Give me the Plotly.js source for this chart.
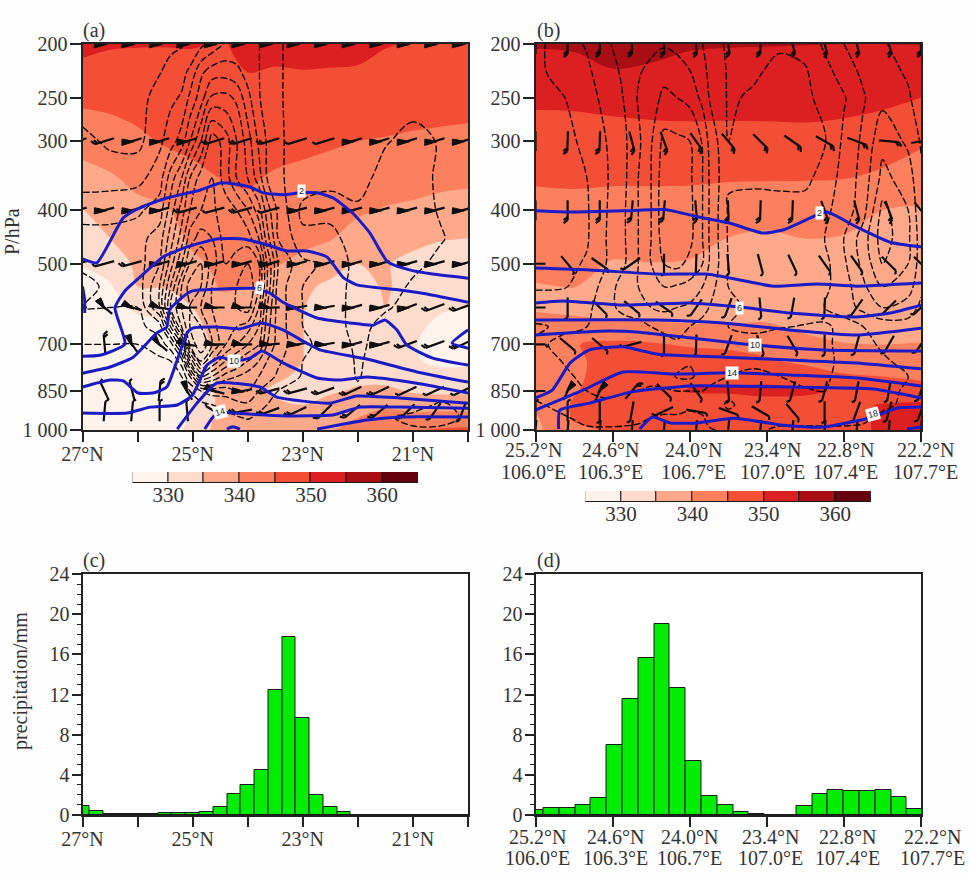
<!DOCTYPE html>
<html>
<head>
<meta charset="utf-8">
<script src="https://cdn.plot.ly/plotly-3.0.1.min.js"></script>
<style>html,body{margin:0;padding:0;background:#fefefe}</style>
</head>
<body>
<div id="chart" style="width:970px;height:876px"></div>
<script>
// pressure levels of the gridded fields
var pLevels = [200,225,250,300,350,400,450,500,550,600,650,700,750,800,850,900,950,1000];

// equivalent potential temperature, one inner list per latitude column
var thetaLatsA = [27,26.5,26,25.5,25,24.5,24,23.5,23,22.5,22,21.5,21,20.5,20];
var thetaA = [
[352,348,346,342,338,334.8,332.5,330.2,328.5,327,326,325,325,325,325,325,325,325],
[350.5,348,346.5,342.5,339.5,337,335,332,329.5,328,327,326,325,325,325,325,326,326],
[350.3,348,347,344,341,339,337,336,335,331,328,327,326,325.5,325.5,326,326,327],
[350.2,348.5,347.5,345.5,342,339.5,337.5,336,335.3,332.5,329,327,326.5,326,326,326,326.5,327],
[350.2,349,348,346,344,342,341,339,337,335,333,331.5,331,330.5,330.5,330.5,331,331.5],
[349.8,349.5,349,347,345,343.5,342,341,340.3,339,338,337,336.5,336,336,336,336.5,337],
[350.5,350,349,347,345.5,344,342.5,341,340,339,338,337.5,337,336.5,336,336,337,338.5],
[352,349.5,348.5,346.5,344.5,343,341.5,340.3,338.5,337,336.5,336.5,336,335.5,334.5,335.5,336.5,338],
[353,349.7,348.5,346,344,342.5,341,339,336,335.3,335.2,335.1,335,334.5,333.5,335,336,338],
[352.5,349.5,348,345.5,343.5,342,340.3,337,334,332,330.5,330,330.5,332,334.5,336.5,338,339.5],
[352,349.3,347.7,345,342.5,340.7,338,335,333,331.5,331,331.5,332,334,335.5,338,340,342],
[350.2,349,347.5,344.7,342,339.7,336.5,335.3,335.6,335,332,331,331.5,333.5,336,339,342,344],
[349.8,349,347.2,344.3,341.5,339.3,336,334,333,332,331,330.3,330.5,332,334.5,338,341.5,344.5],
[349.7,348.7,347,344,341,338.7,335.2,333.5,332,330.5,329,328.5,329,331.5,334,338,342,345.5],
[349.6,348.5,346.8,343.7,340.7,338.5,335,333.5,332,330,328.5,328.5,329,332,334,338,342,346]
];
var thetaLatsB = [25.2,24.9,24.6,24.3,24,23.7,23.4,23.1,22.8,22.5,22.2];
var thetaB = [
[355.5,352.5,351,347.5,345.5,343.5,342,341,339.8,339.7,341,343,343,342,342,341,339.5,339],
[356,352.5,351,347.8,345.5,344,342.5,341.3,340.1,338.5,342,344.8,344,344,344.7,345.5,345.5,344],
[357,354.7,351.5,348,345.5,343.5,341.5,339.7,338,338.3,341,346,347,347.5,347,346.5,346,345.5],
[356,354.5,351.8,348.3,345.5,343.5,341.5,339.9,338,337.5,341,345.5,347.5,348.5,348,347,346.5,346],
[355.5,353.5,351.8,348.5,345.5,343.3,341.3,339.7,338,337.5,340.5,344.5,347.5,349,350.3,348,347,346.5],
[355.3,353,351.7,348.5,345.3,342.8,339.9,338.5,337.5,337.5,340.5,344,347,349,350.5,348,347,346.5],
[355.2,353,351.8,348.5,345.3,342,339.2,338.5,337.5,337.5,340.7,343.5,345.5,348.8,351,348.5,346.8,346.5],
[355.1,353,352,348.5,345.2,342.7,340,338.7,337,336.3,339,341.5,344,347.5,350.7,348.5,347,347],
[355,353,351.7,348.1,345.1,342.5,339.6,338,336,335.3,337.5,340.3,343,345.5,349.5,349,347.5,347.5],
[355,353,351,347.5,344,340,338,336.5,335.5,335.2,337.5,340,342.5,345,347.7,350.2,351,351],
[355.1,352.5,350,345.5,343,339.5,338,337,336.5,336.7,338,340.3,342.5,344,347.5,350.6,352,352]
];

// vertical velocity (dashed contours), one inner list per pressure level
var omegaLatsA = [27,26.5,26,25.6,25.4,25.2,25.05,24.85,24.65,24.4,24.2,24,23.8,23.65,23.45,23,22.5,22,21.5,21,20.5,20];
var omegaA = [
[.8,.8,.7,.4,.2,.1,-.2,-.7,-1.3,-2.1,-2.2,-2.2,-2.05,-1.5,-1.1,-.6,-.5,-.5,-.5,-.5,-.5,-.5],
[.8,.8,.6,.05,-.3,-.7,-1.2,-2.8,-3.5,-3.6,-3.3,-2.6,-2.05,-1.5,-1.1,-.6,-.5,-.5,-.5,-.5,-.5,-.5],
[.6,.6,.4,-.4,-.8,-1.1,-2.2,-3.5,-5.2,-5.3,-4.8,-3.3,-2.1,-1.5,-1.1,-.6,-.5,-.5,-.5,-.5,-.5,-.5],
[-.3,.2,.3,-.8,-1.5,-2.5,-4,-6,-8.6,-7.5,-6,-4.5,-2.8,-1.9,-1.1,-.7,-.5,-.5,-.1,.4,-.1,-.5],
[-.6,-.6,-.7,-1.5,-3.5,-5,-7,-8.5,-9,-7.5,-6,-5,-3.5,-2,-1.1,-.7,-.2,-.5,.5,.5,-.2,-.5],
[-1.5,-1.6,-1.8,-2.5,-4.5,-6.5,-8,-9,-9.2,-8.5,-8,-7,-5.5,-3.5,-1.8,.3,.3,.2,.5,.5,-.1,-.5],
[-2.5,-2.4,-2.6,-3.5,-5.5,-7.5,-9.5,-10.5,-10,-8.5,-8.5,-8.5,-7,-4.5,-2,-.3,-.3,.5,.5,.5,.1,-.5],
[-2.2,-2.9,-2.5,-4,-6.5,-9,-11,-12,-10.5,-9,-9.5,-10,-9,-6,-3,-1.2,-.8,.4,.6,.3,-.3,-.5],
[-1.7,-2.2,-2.4,-5,-8,-11,-12.5,-12,-10,-9,-10,-11,-9,-6,-2.5,-1,-.7,.5,.6,-.2,-.4,-.5],
[-2,-2,-2,-5,-9,-11,-12,-11,-10,-9,-10,-10.5,-8,-5,-2.5,-1,-.5,.4,.1,-.3,-.5,-.5],
[-1.5,-1.5,-1.7,-2.5,-6,-10,-12,-12,-10.5,-9,-9,-8.5,-7,-4.5,-2.5,-1,-.4,.3,-.3,-.5,-.5,-.5],
[-1,-1,-1,-1.5,-2.5,-6,-11,-13,-11,-9,-8,-7,-6,-4,-2.5,-1.2,-.6,.2,-.4,-.5,-.5,-.5],
[-.7,-.7,-.7,-.8,-1,-2.5,-7,-11,-9,-7,-6,-5,-4,-3,-2.2,-1,-.6,.1,-.4,-.5,-.5,-.5],
[-.6,-.6,-.6,-.6,-.7,-1,-3,-7,-6,-4.5,-4,-3.5,-3,-2.5,-1.8,-.9,-.5,.05,-.4,-.4,-.5,-.5],
[-.5,-.5,-.5,-.5,-.5,-.6,-1,-2,-2.5,-2.5,-3,-3,-2,-1.5,-1,-.7,-.3,-.1,-.3,-.4,-.4,-.4],
[-.3,-.3,-.3,-.3,-.3,-.3,-.5,-.7,-1,-1.3,-1.6,-1.8,-1.3,-1,-.6,-.2,-.1,-.1,-.2,-.3,.1,-.2],
[-.2,-.2,-.2,-.2,-.2,-.2,-.3,-.4,-.5,-.7,-.9,-1.1,-.8,-.5,-.3,-.2,-.1,-.1,-.1,.2,.2,-.1],
[-.1,-.1,-.1,-.1,-.1,-.1,-.1,-.2,-.2,-.3,-.3,-.3,-.3,-.2,-.2,-.1,-.1,-.1,-.1,-.1,-.1,-.1]
];
var omegaLatsB = [25.2,25,24.8,24.65,24.5,24.4,24.3,24.2,24.1,24,23.9,23.85,23.7,23.5,23.3,23.1,22.95,22.8,22.65,22.5,22.3,22.2];
var omegaB = [
[.3,-.5,-1.1,-1.9,-2.3,-2.5,-2.7,-2.9,-2.7,-2.4,-2,-1.6,-.8,-.8,-.9,-.7,.2,1,1.2,1.05,.8,.6],
[.3,-.4,-.8,-1.6,-2.2,-2.9,-3.3,-3.7,-3.5,-3.05,-2.4,-1.8,-.9,-.9,-1.2,-1.1,-.4,.5,1.2,1.3,.9,.6],
[.6,.1,-.6,-1.3,-2.1,-3.1,-3.6,-4.2,-4,-3.7,-2.7,-2,-.9,-1.1,-1.5,-1.2,-.7,-.1,.9,1.7,1.1,.6],
[.7,.3,-.2,-1,-1.9,-2.8,-3.9,-5.3,-5.2,-5,-3.9,-2.8,-1,-1.3,-1.7,-1.5,-1.1,.2,1.2,2.7,1.8,.9],
[.8,.5,0,-.9,-1.9,-3,-4,-5.6,-5.6,-5.2,-4,-3,-1.1,-1.1,-1.2,-1.3,-.5,.3,1.4,3.3,2.5,1.2],
[.9,.6,.1,-.95,-2,-3,-4,-5.7,-5.7,-5.3,-4,-3,-.9,-.8,-.7,-.5,-.2,.4,1.6,4.3,3,1.3],
[1,.7,.1,-1,-2,-3,-4,-5.5,-5.5,-5.3,-4,-3,-.9,-.7,-.5,-.3,0,1,2.5,4.5,3.2,1.5],
[.8,.3,-.1,-1,-2,-3,-4,-5,-5.3,-4.7,-4,-3,-1,-.7,-.8,-.7,-.3,.8,2.3,4,3,1.5],
[.1,.1,-.3,-1.5,-2.5,-3,-3.5,-4,-3.9,-3.7,-3,-2.5,-1,-.6,-.7,-.5,-.2,.5,1.8,3,2.5,1.2],
[-.5,-.7,-.8,-1.5,-2.5,-2.8,-3,-3.2,-3,-2.8,-2.5,-2,-1.2,-.8,-.5,-.3,0,.5,1.3,2,1.5,.8],
[-1.1,-.9,-1,-1.2,-1.3,-1.5,-2,-2.3,-2.5,-2,-1.5,-1.2,-1,-.7,-.9,-1.1,-1.3,-.5,0,.4,.6,.3],
[-.9,-1.1,-1.5,-1.2,-1,-1,-1.2,-1.5,-1.8,-1.5,-1.3,-1.1,-1,-1.5,-2,-1.7,-1.2,-.7,-.2,.1,.3,.2],
[-.7,-1,-1.3,-1.7,-1.4,-1.2,-1,-1.1,-1.6,-1.9,-1.6,-1.2,-1,-1.1,-1.4,-1.6,-1.2,-.8,-.4,-.1,.2,.1],
[-.6,-.9,-1.1,-1.5,-1.6,-1.5,-1.2,-1.4,-2.1,-2.2,-1.6,-1.2,-1,-.9,-1,-1.3,-1.1,-.8,-.5,-.3,0,.1],
[-.2,-.5,-1,-1.2,-1.1,-1,-.9,-.9,-1,-1,-1,-.9,-.8,-.7,-.7,-.9,-1,-.7,-.5,-.2,.1,.2],
[.1,-.2,-.6,-.8,-.6,-.5,-.4,-.3,-.3,-.2,-.4,-.6,-1.1,-.7,-.5,-.6,-.6,-.5,-.3,-.1,.1,.2],
[.2,.1,-.2,-.3,-.2,-.1,0,.1,.1,.2,.1,-.3,-.8,-.4,-.2,-.2,-.2,-.2,-.1,.1,.2,.2],
[.3,.2,.1,.1,.1,.1,.1,.2,.2,.3,.2,.1,-.2,-.1,.1,.1,.1,.1,.1,.2,.3,.3]
];

// specific humidity isolines (blue), panel a
var q2LatA = [27,26.74,26.26,25.96,25.47,24.87,24.5,24.27,23.96,23.72,23.36,23.05,22.74,22.45,22.09,21.78,21.46,21.06,20.64,20];
var q2PA = [490,498,413,396,380,368,357,358,363,372,375,372,372,380,405,440,496,513,522,531];
var q4LatA = [27,26.68,26.23,26.41,26.23,25.96,25.54,25.1,24.56,24.09,23.65,23.29,22.93,22.56,22.27,22.02,21.24,20.64,20];
var q4PA = [735,732,699,601,560,529,486,466,451,451,462,474,474,486,529,546,558,570,587];
var q6LatA = [27,26.5,26.08,25.65,25.47,25.42,25.18,25,24.56,23.91,23.6,23.36,22.74,22.14,21.73,21.51,21.29,21.11,20.64,20];
var q6PA = [789,769,738,667,651,606,574,560,556,554,565,587,627,640,646,632,659,702,741,763];
var q6bLatA = [20,20.29,20];
var q6bPA = [659,696,711];
var q6cLatA = [27,26.96,26.96];
var q6cPA = [550,582,614];
var q8LatA = [27,26.5,26.26,25.99,25.72,25.47,25.28,25.1,25,24.56,24.14,23.74,23.36,22.93,22.69,21.84,20.93,20];
var q8PA = [836,812,815,857,857,836,747,667,654,651,656,640,659,696,716,744,785,819];
var q10LatA = [27,26.19,25.77,25.28,25,24.74,24.5,24.25,23.96,23.74,23.36,22.74,22.33,21.84,20.93,20];
var q10PA = [932,932,909,901,864,763,738,750,741,719,756,805,812,802,823,857];
var q12LatA = [25.28,24.92,24.56,23.78,23.47,22.51,22.02,21.24,20];
var q12PA = [996,894,822,836,872,894,868,875,894];
var q14LatA = [24.78,24.63,24.5,24.27,23.29,22.45,21.96,21.24,20];
var q14PA = [996,947,928,932,943,939,909,909,913];
var q16LatA = [24.38,24.27,24.14];
var q16PA = [996,987,996];
var q16bLatA = [22.74,21.84,21.24,20];
var q16bPA = [996,959,947,947];

// specific humidity isolines, panel b
var q2LatB = [25.2,24.96,24.52,24.18,23.94,23.69,23.43,23.27,23.01,22.93,22.7,22.44,22.2];
var q2PB = [401,403,401,399,411,422,440,434,408,403,429,457,466];
var q4LatB = [25.2,24.78,24.25,23.87,23.61,23.35,23.01,22.7,22.2];
var q4PB = [509,513,522,522,535,549,544,549,542];
var q6LatB = [25.2,24.99,24.52,24,23.61,23.22,22.7,22.44,22.2];
var q6PB = [589,584,594,589,599,614,624,614,594];
var q8LatB = [25.2,24.25,23.74,23.22,22.7,22.2];
var q8PB = [632,632,640,659,673,654];
var q10LatB = [25.2,24.64,24.39,24,23.48,22.96,22.2];
var q10PB = [673,662,665,681,702,716,719];
var q12LatB = [25.2,25.07,24.93,24.78,24.52,24.25,23.74,23.22,22.7,22.2];
var q12PB = [875,847,756,716,707,729,738,747,756,775];
var q14LatB = [25.2,24.83,24.52,24.13,23.67,23.22,22.7,22.2];
var q14PB = [920,847,785,792,788,795,805,832];
var q16LatB = [25.02,25.01,24.78,24.46,24,23.22,22.57,22.2];
var q16PB = [996,920,894,854,832,836,843,875];
var q18LatB = [24.39,24.29,24.15,23.94,23.66,23.27,22.96,22.57,22.39,22.2];
var q18PB = [996,947,971,971,952,980,988,947,913,909];
var q20LatB = [22.31,22.2];
var q20PB = [996,988];

// isoline labels
var qLabelsA = ['2','6','10','14'];
var qLabelLatA = [23.02,23.78,24.25,24.5];
var qLabelPA = [369,554,750,928];
var qLabelsB = ['2','6','10','14','18'];
var qLabelLatB = [22.99,23.61,23.49,23.67,22.57];
var qLabelPB = [405,601,702,788,936];

// wind barbs: direction of the shaft in degrees (0 = right, 90 = up), kind 0 hook, 1 feathers, 2 pennant
var barbLatsA = [27.1,26.6,26.1,25.6,25.1,24.6,24.1,23.6,23.1,22.6,22.1,21.6,21.1,20.6,20.1];
var barbLevelsA = [200,300,400,500,600,700,850,925];
var barbDirA = [
[195,195,195,195,195,195,195,195,195,195,195,195,195,195,195],
[197,197,197,197,197,197,197,197,197,197,197,197,197,197,197],
[195,195,195,195,195,195,195,195,195,195,195,195,195,195,195],
[195,195,195,195,195,195,195,195,195,195,195,195,195,195,195],
[180,140,165,170,180,180,180,180,190,190,195,195,200,200,200],
[100,95,125,140,170,180,180,185,190,190,195,195,200,200,205],
[110,115,105,85,120,165,190,195,195,200,205,205,205,205,205],
[90,85,85,90,95,150,190,200,205,225,220,220,225,235,250]
];
var barbKindA = [
[2,2,2,2,2,2,2,2,2,2,2,2,2,2,2],
[1,1,2,2,2,1,1,1,0,0,2,2,2,2,2],
[0,2,2,2,1,0,1,0,2,2,2,2,2,2,2],
[0,0,1,2,2,2,2,2,2,2,2,2,2,2,2],
[0,2,2,2,2,2,2,2,2,2,2,2,2,1,1],
[0,1,2,2,2,2,2,2,2,2,2,2,1,1,1],
[0,0,0,1,2,2,2,1,1,1,1,1,0,0,0],
[0,0,0,0,0,0,1,1,1,1,1,1,1,0,0]
];
var barbLatsB = [25.2,24.95,24.7,24.45,24.2,23.95,23.7,23.45,23.2,22.95,22.7,22.45,22.2];
var barbLevelsB = [200,300,400,500,600,700,850,925,1000];
var barbDirB = [
[270,270,270,270,272,275,278,270,285,285,285,285,270],
[270,268,268,285,290,305,310,315,325,330,340,355,10],
[270,270,270,265,265,275,272,268,268,290,285,290,310],
[180,310,325,215,270,268,275,285,295,305,305,315,315],
[180,270,315,320,325,235,250,275,260,268,235,225,225],
[0,320,320,195,270,268,250,290,300,270,255,240,235],
[180,65,65,50,315,305,275,265,255,255,260,260,250],
[90,90,270,260,205,-10,-20,-30,-50,270,250,255,250],
[265,265,265,265,265,265,265,265,265,265,265,265,265]
];
var barbKindB = [
[1,1,1,1,1,1,1,1,1,1,1,1,1],
[1,1,1,1,1,1,1,1,1,1,1,1,1],
[1,1,1,1,1,1,1,1,1,1,1,1,1],
[0,0,0,0,0,0,0,0,0,0,0,0,0],
[0,0,0,0,0,0,0,0,0,0,0,0,0],
[0,0,0,0,0,0,0,0,0,0,0,0,0],
[2,2,2,1,0,0,0,0,0,0,0,0,0],
[0,0,0,0,0,0,0,0,0,0,0,0,0],
[0,0,0,0,0,0,0,0,0,0,0,0,0]
];

// precipitation
var precipLatC = [27,26.75,26.5,26.25,26,25.75,25.5,25.25,25,24.75,24.5,24.25,24,23.75,23.5,23.25,23,22.75,22.5,22.25,22,21.75,21.5,21.25,21,20.75,20.5,20.25,20];
var precipC = [.9,.4,.12,.08,.08,.1,.17,.2,.2,.25,.75,2.1,3,4.45,12.45,17.75,9.7,2,.8,.3,0,0,0,0,0,0,0,0,0];
var precipLatD = [25.2,25.077,24.954,24.831,24.708,24.585,24.462,24.339,24.216,24.093,23.97,23.847,23.724,23.601,23.478,23.355,23.232,23.109,22.986,22.863,22.74,22.617,22.494,22.371,22.248];
var precipD = [.45,.65,.72,1.03,1.7,7,11.6,15.6,19,12.6,5.35,1.9,1,.33,.1,.02,.01,.9,2.1,2.5,2.42,2.42,2.45,1.8,.6];

// axis labels
var pTicks = [200,250,300,400,500,700,850,1000];
var pTickText = ['200','250','300','400','500','700','850','1 000'];
var latTicksA = [27,26,25,24,23,22,21,20];
var latTextA = ['27°N','','25°N','','23°N','','21°N',''];
var latTicksB = [25.2,24.6,24,23.4,22.8,22.2];
var latBlankB = ['','','','','',''];
var latTextB = ['25.2°N','24.6°N','24.0°N','23.4°N','22.8°N','22.2°N'];
var lonTextB = ['106.0°E','106.3°E','106.7°E','107.0°E','107.4°E','107.7°E'];
var precipTicks = [0,4,8,12,16,20,24];

// colour key
var keyStarts = [325,330,335,340,345,350,355,360];
var keyWidths = [5,5,5,5,5,5,5,5];
var keyTicks = [330,340,350,360];
var keyColors = ['#FFF3EC','#FDDCCD','#FDA98A','#FC7F5E','#F34E36','#DC1F20','#A90E14','#67000D'];

var W = 970, H = 876;
var serif = 'Liberation Serif, serif';
var inkFont = {family: serif, size: 20, color: '#333333'};
var blue = '#1B1BC6';
var ink = '#0d0d0d';

// pixel boxes of the panels
var boxA = {l: 82.5, r: 468, t: 44, b: 430};
var boxB = {l: 535.5, r: 921, t: 44, b: 430};
var boxC = {l: 82.5, r: 468, t: 574, b: 815};
var boxD = {l: 535.5, r: 921, t: 574, b: 815};
var keyA = {l: 132.5, r: 418, t: 472, b: 483};
var keyB = {l: 585.3, r: 871, t: 491, b: 502};

function xDom(b) { return [b.l / W, b.r / W]; }
function yDom(b) { return [1 - b.b / H, 1 - b.t / H]; }

var pScale = Math.log(5) / 386;   // log pressure per pixel of the upper panels

// turn a list of barbs into line and pennant traces
function barbTraces(lats, levels, dirs, kinds, pxPerDeg, xa, ya) {
  var lx = [], ly = [], fx = [], fy = [];
  levels.forEach(function(p0, r) {
    lats.forEach(function(lat0, c) {
      var a = dirs[r][c] * Math.PI / 180, kind = kinds[r][c];
      var dx = Math.cos(a), dy = Math.sin(a), nx = dy, ny = -dx;
      var toLat = function(px) { return lat0 - px / pxPerDeg; };
      var toP = function(py) { return p0 * Math.exp(-pScale * py); };
      var L = 10;
      lx.push(toLat(-dx * L), toLat(dx * L), null);
      ly.push(toP(-dy * L), toP(dy * L), null);
      if (kind === 0) {
        lx.push(toLat(dx * L), toLat(dx * (L + 2) + nx * 3), null);
        ly.push(toP(dy * L), toP(dy * (L + 2) + ny * 3), null);
      } else if (kind === 1) {
        lx.push(toLat(dx * L), toLat(dx * (L + 3) + nx * 4), null, toLat(dx * (L - 3)), toLat(dx * L + nx * 4), null);
        ly.push(toP(dy * L), toP(dy * (L + 3) + ny * 4), null, toP(dy * (L - 3)), toP(dy * L + ny * 4), null);
      } else {
        // long flat pennant lying on the outer part of the shaft
        fx.push(toLat(dx * (L + 1) - nx), toLat(dx * (L - 12) - nx), toLat(dx * (L - 5) + nx * 3), toLat(dx * (L - 1) + nx * 5), toLat(dx * (L + 1) - nx), null);
        fy.push(toP(dy * (L + 1) - ny), toP(dy * (L - 12) - ny), toP(dy * (L - 5) + ny * 3), toP(dy * (L - 1) + ny * 5), toP(dy * (L + 1) - ny), null);
      }
    });
  });
  return [
    {type: 'scatter', mode: 'lines', x: lx, y: ly, xaxis: xa, yaxis: ya, hoverinfo: 'skip', connectgaps: false,
     line: {color: ink, width: 2.2}},
    {type: 'scatter', mode: 'lines', x: fx, y: fy, xaxis: xa, yaxis: ya, hoverinfo: 'skip', fill: 'toself',
     fillcolor: ink, line: {color: ink, width: 1}}
  ];
}

function thetaTrace(lats, z, xa, ya) {
  return {
    type: 'contour', x: lats, y: pLevels, z: z, transpose: true, xaxis: xa, yaxis: ya, showscale: false, hoverinfo: 'skip',
    autocontour: false,
    contours: {coloring: 'fill', showlines: false, start: 330, end: 360, size: 5},
    colorscale: keyColors.map(function(c, i) { return [i / 7, c]; }),
    line: {width: 0, smoothing: 1}
  };
}

function omegaTrace(lats, z, xa, ya, lo, hi) {
  return {
    type: 'contour', x: lats, y: pLevels, z: z, xaxis: xa, yaxis: ya, showscale: false, hoverinfo: 'skip',
    autocontour: false,
    contours: {coloring: 'none', start: lo, end: hi, size: 1},
    line: {color: '#000000', width: 1.3, dash: '7px,2.5px', smoothing: 1}
  };
}

function humLines(list, xa, ya) {
  return list.map(function(l) {
    return {type: 'scatter', mode: 'lines', x: l[0], y: l[1], xaxis: xa, yaxis: ya, hoverinfo: 'skip',
      line: {color: blue, width: 3, shape: 'spline', smoothing: 0.5}};
  });
}

function precipTrace(x, y, w, xa, ya) {
  return {type: 'bar', x: x, y: y, width: w, xaxis: xa, yaxis: ya, hoverinfo: 'skip',
    marker: {color: '#00EC00', line: {color: '#1a1a1a', width: 1}}};
}

function keyTrace(xa, ya) {
  return {type: 'bar', orientation: 'h', y: [0,0,0,0,0,0,0,0], x: keyWidths, base: keyStarts, width: 1, xaxis: xa, yaxis: ya,
    hoverinfo: 'skip', marker: {color: keyColors, line: {color: '#1a1a1a', width: 1}}};
}

var data = [].concat(
  [thetaTrace(thetaLatsA, thetaA, 'x', 'y'), omegaTrace(omegaLatsA, omegaA, 'x', 'y', -13, 0)],
  barbTraces(barbLatsA, barbLevelsA, barbDirA, barbKindA, 55.07, 'x', 'y'),
  humLines([[q2LatA,q2PA],[q4LatA,q4PA],[q6LatA,q6PA],[q6bLatA,q6bPA],[q6cLatA,q6cPA],[q8LatA,q8PA],[q10LatA,q10PA],[q12LatA,q12PA],[q14LatA,q14PA],[q16LatA,q16PA],[q16bLatA,q16bPA]], 'x', 'y'),
  [thetaTrace(thetaLatsB, thetaB, 'x2', 'y2'), omegaTrace(omegaLatsB, omegaB, 'x2', 'y2', -6, 4)],
  barbTraces(barbLatsB, barbLevelsB, barbDirB, barbKindB, 128.5, 'x2', 'y2'),
  humLines([[q2LatB,q2PB],[q4LatB,q4PB],[q6LatB,q6PB],[q8LatB,q8PB],[q10LatB,q10PB],[q12LatB,q12PB],[q14LatB,q14PB],[q16LatB,q16PB],[q18LatB,q18PB],[q20LatB,q20PB]], 'x2', 'y2'),
  [precipTrace(precipLatC, precipC, 0.25, 'x3', 'y3'), precipTrace(precipLatD, precipD, 0.123, 'x4', 'y4')],
  [keyTrace('x5', 'y5'), keyTrace('x6', 'y6')]
);

function latAxis(box, anchor, range, vals, text) {
  return {domain: xDom(box), anchor: anchor, range: range, tickmode: 'array', tickvals: vals, ticktext: text,
    ticks: 'outside', ticklen: 10, tickwidth: 1.5, tickcolor: '#222', tickfont: inkFont, tickangle: 0, ticklabelstandoff: -5,
    showline: true, linecolor: '#222', linewidth: 2, mirror: true, showgrid: false, zeroline: false};
}
function pAxis(box, anchor) {
  return {domain: yDom(box), anchor: anchor, type: 'log', range: [3, Math.log10(200)], tickmode: 'array',
    tickvals: pTicks, ticktext: pTickText, ticks: 'outside', ticklen: 11, tickwidth: 1.5, tickcolor: '#222', tickfont: inkFont,
    ticklabelstandoff: -2, showline: true, linecolor: '#222', linewidth: 2, mirror: true, showgrid: false, zeroline: false};
}
function precipAxis(box, anchor) {
  return {domain: yDom(box), anchor: anchor, range: [0, 24], tickmode: 'array', tickvals: precipTicks,
    ticks: 'outside', ticklen: 9, tickwidth: 1.5, tickcolor: '#222', tickfont: inkFont, ticklabelstandoff: -2,
    minor: {dtick: 1, ticks: 'outside', ticklen: 4, tickwidth: 1, tickcolor: '#222', showgrid: false},
    showline: true, linecolor: '#222', linewidth: 2, mirror: true, showgrid: false, zeroline: false};
}
function keyX(box, anchor) {
  return {domain: xDom(box), anchor: anchor, range: [325, 365], tickmode: 'array', tickvals: keyTicks,
    ticks: '', tickfont: {family: serif, size: 21, color: '#333333'}, ticklabelstandoff: -3,
    showline: false, showgrid: false, zeroline: false};
}
function keyY(box, anchor) {
  return {domain: yDom(box), anchor: anchor, range: [-0.5, 0.5], showticklabels: false, ticks: '',
    showline: false, showgrid: false, zeroline: false};
}

function panelLabel(text, px, py) {
  return {text: text, xref: 'paper', yref: 'paper', x: px / W, y: 1 - py / H, xanchor: 'left', yanchor: 'middle',
    showarrow: false, font: inkFont};
}
function sideTitle(text, px, py) {
  return {text: text, xref: 'paper', yref: 'paper', x: px / W, y: 1 - py / H, xanchor: 'center', yanchor: 'middle',
    textangle: -90, showarrow: false, font: inkFont};
}
function isoLabels(texts, lats, ps, angles, xr, yr) {
  return texts.map(function(t, i) {
    return {text: t, xref: xr, yref: yr, x: lats[i], y: Math.log10(ps[i]), showarrow: false, textangle: angles[i],
      bgcolor: '#ffffff', borderpad: 1, font: {family: 'Liberation Sans, sans-serif', size: 9, color: '#1a1a1a'}};
  });
}
function tickRow(texts, xr, py, shifts) {
  return texts.map(function(t, i) {
    return {text: t, xref: xr, yref: 'paper', x: latTicksB[i], y: 1 - py / H, xshift: shifts[i], xanchor: 'center', yanchor: 'middle',
      showarrow: false, font: inkFont};
  });
}

var shiftsB = [-2.5, -2, 4, 6, 2, 4];
var shiftsD = [1.5, 3, 0, 4, 4, 11];

var annotations = [
  panelLabel('(a)', 81, 30), panelLabel('(b)', 535, 30), panelLabel('(c)', 81, 560), panelLabel('(d)', 535, 560),
  sideTitle('P/hPa', 12, 232), sideTitle('precipitation/mm', 20, 681)
].concat(
  isoLabels(qLabelsA, qLabelLatA, qLabelPA, [0, 10, 0, -15], 'x', 'y'),
  isoLabels(qLabelsB, qLabelLatB, qLabelPB, [0, 0, 0, 0, -15], 'x2', 'y2'),
  tickRow(latTextB, 'x2', 450, shiftsB), tickRow(lonTextB, 'x2', 472, shiftsB),
  tickRow(latTextB, 'x4', 837, shiftsD), tickRow(lonTextB, 'x4', 858, shiftsD)
);

var layout = {
  width: W, height: H, margin: {l: 0, r: 0, t: 0, b: 0, pad: 0}, showlegend: false,
  paper_bgcolor: '#fefefe', plot_bgcolor: '#ffffff', barmode: 'overlay', bargap: 0,
  xaxis: latAxis(boxA, 'y', [27, 20], latTicksA, latTextA),
  yaxis: pAxis(boxA, 'x'),
  xaxis2: latAxis(boxB, 'y2', [25.2, 22.2], latTicksB, latBlankB),
  yaxis2: pAxis(boxB, 'x2'),
  xaxis3: latAxis(boxC, 'y3', [27, 20], latTicksA, latTextA),
  yaxis3: precipAxis(boxC, 'x3'),
  xaxis4: latAxis(boxD, 'y4', [25.2, 22.2], latTicksB, latBlankB),
  yaxis4: precipAxis(boxD, 'x4'),
  xaxis5: keyX(keyA, 'y5'),
  yaxis5: keyY(keyA, 'x5'),
  xaxis6: keyX(keyB, 'y6'),
  yaxis6: keyY(keyB, 'x6'),
  annotations: annotations
};

Plotly.newPlot('chart', data, layout, {displayModeBar: false});
</script>
</body>
</html>
